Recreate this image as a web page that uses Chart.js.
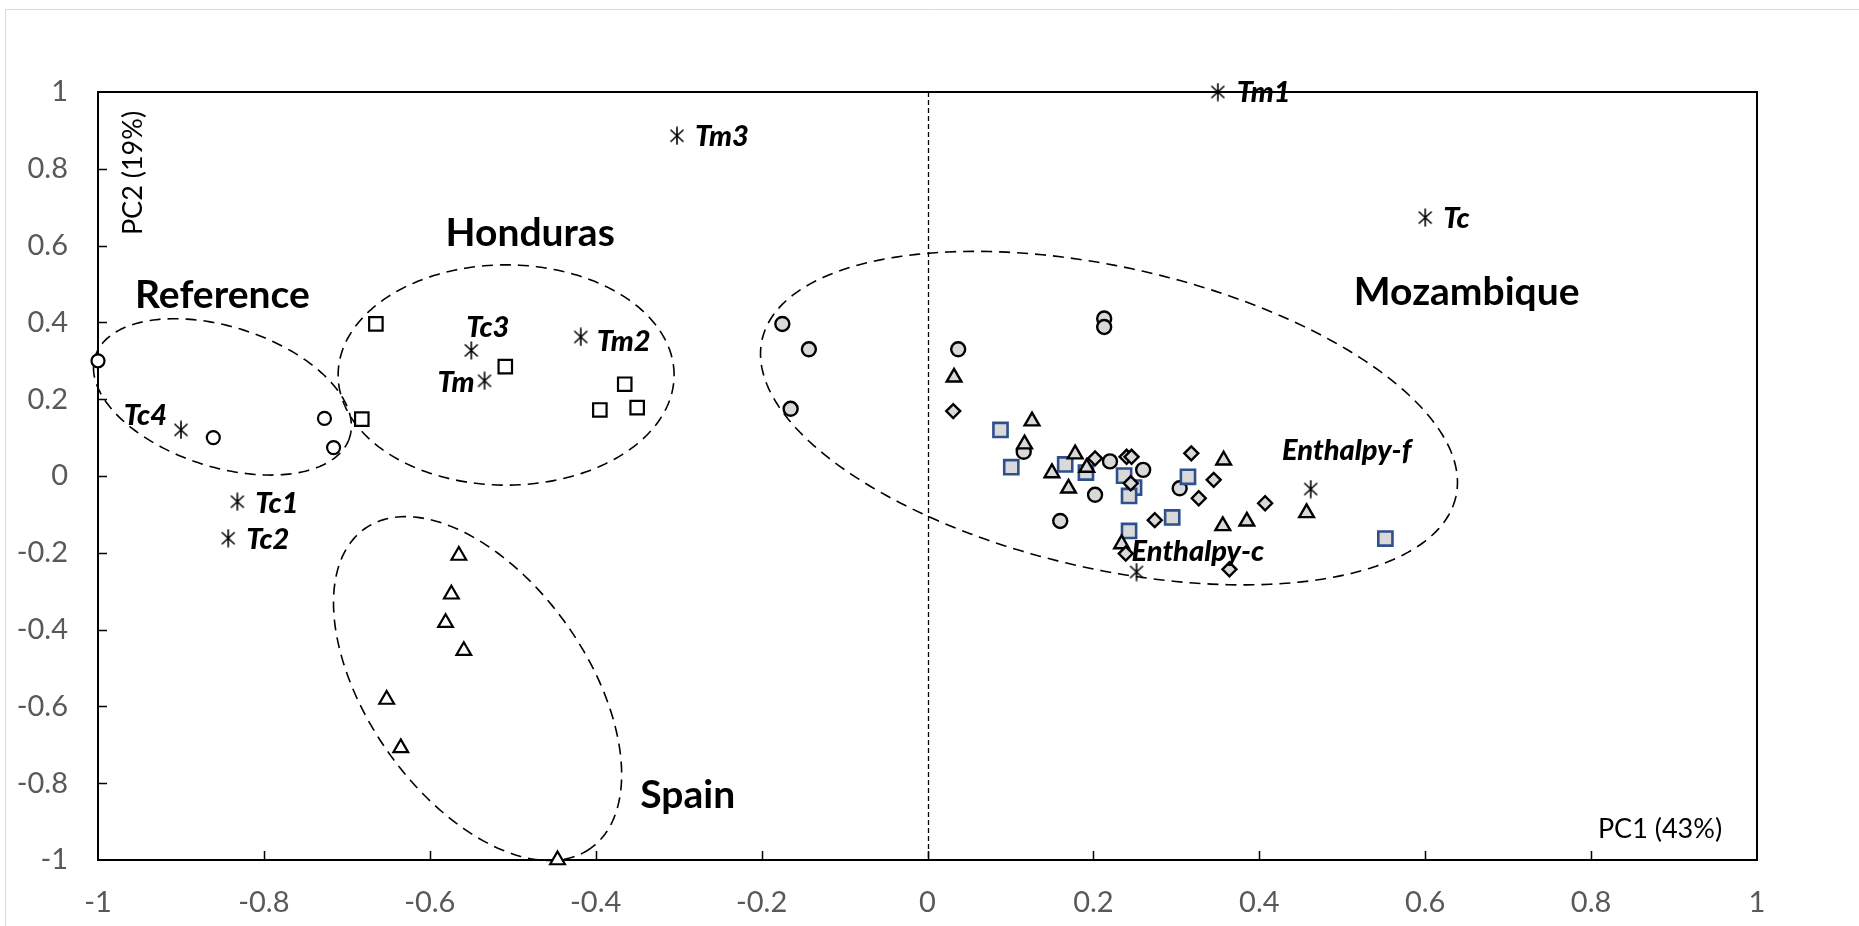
<!DOCTYPE html>
<html>
<head>
<meta charset="utf-8">
<script src="https://cdn.jsdelivr.net/npm/chart.js@4.4.1/dist/chart.umd.min.js"></script>
<style>
html,body{margin:0;padding:0;background:#fff;}
#wrap{width:1859px;height:926px;position:relative;overflow:hidden;}
canvas{display:block;}
</style>
</head>
<body>
<div id="wrap"><canvas id="c" width="1859" height="926"></canvas></div>
<script>
// ---------- DATA ----------
const tickValues = [-1, -0.8, -0.6, -0.4, -0.2, 0, 0.2, 0.4, 0.6, 0.8, 1];
const tickLabels = ['-1', '-0.8', '-0.6', '-0.4', '-0.2', '0', '0.2', '0.4', '0.6', '0.8', '1'];

// Reference group (open circles)
const referenceX = [-1.0, -0.861, -0.727, -0.716];
const referenceY = [0.30, 0.100, 0.150, 0.074];

// Honduras group (open squares)
const hondurasX = [-0.682, -0.665, -0.509, -0.365, -0.395, -0.350];
const hondurasY = [0.148, 0.396, 0.285, 0.239, 0.172, 0.178];

// Spain group (open triangles)
const spainX = [-0.565, -0.574, -0.581, -0.559, -0.652, -0.635, -0.446];
const spainY = [-0.207, -0.308, -0.382, -0.455, -0.582, -0.708, -1.0];

// Mozambique group
const mozCircleX = [-0.175, -0.143, -0.165, 0.037, 0.213, 0.213, 0.116, 0.220, 0.260, 0.202, 0.304, 0.160];
const mozCircleY = [0.396, 0.330, 0.175, 0.330, 0.410, 0.388, 0.063, 0.038, 0.016, -0.049, -0.032, -0.117];

const mozTriangleX = [0.032, 0.126, 0.117, 0.178, 0.192, 0.150, 0.170, 0.357, 0.457, 0.385, 0.356, 0.234];
const mozTriangleY = [0.257, 0.143, 0.083, 0.057, 0.022, 0.008, -0.032, 0.041, -0.096, -0.118, -0.130, -0.177];

const mozDiamondX = [0.031, 0.202, 0.240, 0.246, 0.245, 0.318, 0.345, 0.327, 0.407, 0.274, 0.239, 0.364];
const mozDiamondY = [0.169, 0.046, 0.050, 0.050, -0.019, 0.059, -0.010, -0.058, -0.071, -0.115, -0.202, -0.243];

const mozSquareX = [0.088, 0.101, 0.166, 0.191, 0.237, 0.249, 0.243, 0.314, 0.295, 0.243, 0.552];
const mozSquareY = [0.120, 0.023, 0.030, 0.009, 0.001, -0.030, -0.052, -0.002, -0.108, -0.143, -0.163];

// Variables (asterisks with labels)
const varNames = ['Tm3', 'Tm1', 'Tc', 'Tm2', 'Tc3', 'Tm', 'Tc4', 'Tc1', 'Tc2', 'Enthalpy-f', 'Enthalpy-c'];
const varX = [-0.302, 0.350, 0.600, -0.418, -0.550, -0.534, -0.900, -0.832, -0.843, 0.462, 0.252];
const varY = [0.886, 1.000, 0.673, 0.362, 0.327, 0.248, 0.120, -0.067, -0.162, -0.034, -0.250];

// Group names
const groupNames = ['Reference', 'Honduras', 'Spain', 'Mozambique'];
const groupLabelX = [-0.850, -0.479, -0.289, 0.650];
const groupLabelY = [0.469, 0.632, -0.833, 0.478];

// Confidence ellipses: centre and conjugate half-axes (data units)
const ellipseCX = [-0.850, -0.508, -0.5424, 0.2188];
const ellipseCY = [0.206, 0.263, -0.5536, 0.1507];
const ellipseUX = [0.1533, 0.2025, 0.1361, 0.4182];
const ellipseUY = [-0.1059, 0.0, -0.4162, -0.2047];
const ellipseVX = [-0.0257, 0.0, -0.1079, -0.0401];
const ellipseVY = [-0.1739, 0.2868, -0.1651, -0.3830];

// ---------- STYLE (label placement in px relative to the marker) ----------
const varLabelDX = [18, 19, 18, 16, -5, -10, -14, 18, 18, 36, -5];
const varLabelDY = [1, 1, 1, 5, -23, 2, -14, 2, 1, -38, -20];
const varLabelAlign = ['left', 'left', 'left', 'left', 'left', 'right', 'right', 'left', 'left', 'center', 'left'];

function pts(xs, ys) { return xs.map((x, i) => ({ x: x, y: ys[i] })); }

// asterisk marker (X + vertical bar)
const star = document.createElement('canvas');
star.width = 18; star.height = 19;
(function () {
  const g = star.getContext('2d');
  g.strokeStyle = '#000'; g.lineWidth = 1.6; g.lineCap = 'butt';
  g.beginPath();
  g.moveTo(9, 0.5); g.lineTo(9, 18.5);
  g.moveTo(2.5, 3.5); g.lineTo(15.5, 15.5);
  g.moveTo(15.5, 3.5); g.lineTo(2.5, 15.5);
  g.stroke();
})();

const GREY = '#d9d9d9';

const decor = {
  id: 'decor',
  beforeDraw(chart) {
    const ctx = chart.ctx;
    ctx.save();
    ctx.fillStyle = '#fff';
    ctx.fillRect(0, 0, chart.width, chart.height);
    ctx.strokeStyle = '#d9d9d9';
    ctx.lineWidth = 1;
    ctx.beginPath();
    ctx.moveTo(5.5, chart.height + 2); ctx.lineTo(5.5, 9.5); ctx.lineTo(chart.width + 2, 9.5);
    ctx.stroke();
    ctx.restore();
  },
  beforeDatasetsDraw(chart) {
    const ctx = chart.ctx, a = chart.chartArea;
    const xs = chart.scales.x, ys = chart.scales.y;
    ctx.save();
    // plot frame
    ctx.strokeStyle = '#000';
    ctx.lineWidth = 2;
    ctx.strokeRect(a.left, a.top, a.right - a.left, a.bottom - a.top);
    // inward tick marks
    ctx.lineWidth = 1.5;
    ctx.beginPath();
    tickValues.forEach(v => {
      if (v === -1 || v === 1) return;
      const px = Math.round(xs.getPixelForValue(v)) + 0.5;
      ctx.moveTo(px, a.bottom); ctx.lineTo(px, a.bottom - 9);
      const py = Math.round(ys.getPixelForValue(v)) + 0.5;
      ctx.moveTo(a.left, py); ctx.lineTo(a.left + 9, py);
    });
    ctx.stroke();
    // dashed vertical line at x = 0
    ctx.lineWidth = 1.3;
    ctx.setLineDash([5, 3]);
    const x0 = Math.round(xs.getPixelForValue(0)) + 0.5;
    ctx.beginPath();
    ctx.moveTo(x0, a.top); ctx.lineTo(x0, a.bottom);
    ctx.stroke();
    // ellipses
    ctx.setLineDash([11, 7]);
    ctx.lineWidth = 1.6;
    for (let e = 0; e < ellipseCX.length; e++) {
      ctx.beginPath();
      const N = 240;
      for (let k = 0; k <= N; k++) {
        const t = (k / N) * Math.PI * 2;
        const dx = ellipseCX[e] + ellipseUX[e] * Math.cos(t) + ellipseVX[e] * Math.sin(t);
        const dy = ellipseCY[e] + ellipseUY[e] * Math.cos(t) + ellipseVY[e] * Math.sin(t);
        const px = xs.getPixelForValue(dx), py = ys.getPixelForValue(dy);
        if (k === 0) ctx.moveTo(px, py); else ctx.lineTo(px, py);
      }
      ctx.stroke();
    }
    ctx.restore();
  },
  afterDatasetsDraw(chart) {
    const ctx = chart.ctx, a = chart.chartArea;
    const xs = chart.scales.x, ys = chart.scales.y;
    ctx.save();
    ctx.fillStyle = '#000';
    ctx.textBaseline = 'middle';
    // variable labels
    ctx.font = 'italic 900 29px Lato';
    varNames.forEach((n, i) => {
      ctx.textAlign = varLabelAlign[i];
      ctx.fillText(n, xs.getPixelForValue(varX[i]) + varLabelDX[i], ys.getPixelForValue(varY[i]) + varLabelDY[i]);
    });
    // group labels
    ctx.font = 'bold 39px Lato';
    ctx.textAlign = 'center';
    groupNames.forEach((n, i) => {
      ctx.fillText(n, xs.getPixelForValue(groupLabelX[i]), ys.getPixelForValue(groupLabelY[i]));
    });
    // axis titles inside the plot
    ctx.font = '27px Lato';
    ctx.textAlign = 'center';
    ctx.fillText('PC1 (43%)', a.right - 97, a.bottom - 31);
    ctx.save();
    ctx.translate(a.left + 35, a.top + 81);
    ctx.rotate(-Math.PI / 2);
    ctx.fillText('PC2 (19%)', 0, 0);
    ctx.restore();
    ctx.restore();
  }
};

const openStyle = { backgroundColor: '#fff', borderColor: '#000', borderWidth: 2.2 };
const greyStyle = { backgroundColor: GREY, borderColor: '#000', borderWidth: 2.4 };

new Chart(document.getElementById('c'), {
  type: 'scatter',
  data: {
    datasets: [
      { label: 'Variables', data: pts(varX, varY), pointStyle: star, pointRadius: 9, clip: false },
      Object.assign({ label: 'Moz diamonds', data: pts(mozDiamondX, mozDiamondY), pointStyle: 'rectRot', pointRadius: 7, clip: false }, greyStyle),
      Object.assign({ label: 'Moz triangles', data: pts(mozTriangleX, mozTriangleY), pointStyle: 'triangle', pointRadius: 8.5, clip: false }, greyStyle),
      { label: 'Moz squares', data: pts(mozSquareX, mozSquareY), pointStyle: 'rect', pointRadius: 10, backgroundColor: GREY, borderColor: '#2f4f8f', borderWidth: 2.6, clip: false },
      Object.assign({ label: 'Moz circles', data: pts(mozCircleX, mozCircleY), pointStyle: 'circle', pointRadius: 7, clip: false }, greyStyle),
      Object.assign({ label: 'Reference', data: pts(referenceX, referenceY), pointStyle: 'circle', pointRadius: 6.5, clip: false }, openStyle),
      Object.assign({ label: 'Honduras', data: pts(hondurasX, hondurasY), pointStyle: 'rect', pointRadius: 9.5, clip: false }, openStyle),
      Object.assign({ label: 'Spain', data: pts(spainX, spainY), pointStyle: 'triangle', pointRadius: 8.5, clip: false }, openStyle)
    ]
  },
  options: {
    responsive: false,
    animation: false,
    devicePixelRatio: 1,
    layout: { padding: { left: 0, top: 92, right: 102, bottom: 0 } },
    plugins: { legend: { display: false }, tooltip: { enabled: false } },
    elements: { point: { hoverRadius: 0 } },
    scales: {
      x: {
        type: 'linear', min: -1, max: 1,
        afterBuildTicks: s => { s.ticks = tickValues.map(v => ({ value: v })); },
        afterFit: s => { s.height = 66; },
        grid: { display: false, drawTicks: false },
        border: { display: false },
        ticks: {
          callback: (v) => tickLabels[tickValues.indexOf(v)] !== undefined ? tickLabels[tickValues.indexOf(v)] : '',
          color: '#595959', font: { family: 'Lato', size: 29 }, padding: 25, maxRotation: 0, autoSkip: false
        }
      },
      y: {
        type: 'linear', min: -1, max: 1,
        afterBuildTicks: s => { s.ticks = tickValues.map(v => ({ value: v })); },
        afterFit: s => { s.width = 98; },
        grid: { display: false, drawTicks: false },
        border: { display: false },
        ticks: {
          callback: (v) => tickLabels[tickValues.indexOf(v)] !== undefined ? tickLabels[tickValues.indexOf(v)] : '',
          color: '#595959', font: { family: 'Lato', size: 29 }, padding: 30, autoSkip: false
        }
      }
    }
  },
  plugins: [decor]
});
</script>
</body>
</html>
